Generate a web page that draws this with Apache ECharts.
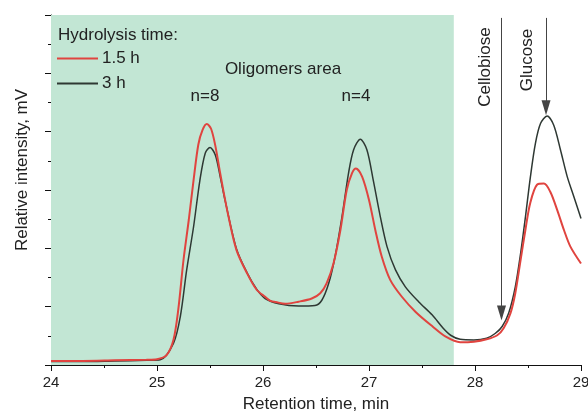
<!DOCTYPE html>
<html>
<head>
<meta charset="utf-8">
<script src="https://cdn.jsdelivr.net/npm/echarts@6/dist/echarts.min.js"></script>
<style>
    html, body { margin: 0; padding: 0; background: #fff; }
    #chart { width: 588px; height: 416px; }
</style>
</head>
<body>
<div id="chart"></div>
<script>
// retention time (min) / intensity for each hydrolysis time
var time15 = [24.0, 24.3, 24.6, 24.9, 25.0, 25.09, 25.155, 25.2, 25.25, 25.3, 25.345, 25.39, 25.43, 25.47, 25.51, 25.55, 25.59, 25.63, 25.675, 25.75, 25.85, 25.94, 26.02, 26.07, 26.12, 26.21, 26.335, 26.46, 26.54, 26.6, 26.665, 26.73, 26.79, 26.84, 26.877, 26.935, 27.0, 27.06, 27.12, 27.2, 27.31, 27.44, 27.6, 27.72, 27.86, 27.99, 28.11, 28.21, 28.27, 28.335, 28.38, 28.43, 28.475, 28.52, 28.585, 28.65, 28.71, 28.775, 28.84, 28.9, 29.0];
var val15 = [0.07, 0.07, 0.08, 0.09, 0.10, 0.17, 0.43, 0.94, 1.80, 2.49, 3.17, 3.78, 4.03, 4.13, 4.05, 3.76, 3.35, 2.95, 2.54, 1.97, 1.57, 1.29, 1.17, 1.10, 1.08, 1.05, 1.085, 1.14, 1.23, 1.40, 1.74, 2.31, 3.00, 3.29, 3.37, 3.23, 2.83, 2.31, 1.86, 1.46, 1.17, 0.91, 0.66, 0.49, 0.39, 0.40, 0.44, 0.51, 0.63, 0.89, 1.23, 1.80, 2.31, 2.77, 3.09, 3.11, 2.97, 2.66, 2.31, 2.03, 1.74];
var time3 = [24.0, 24.3, 24.6, 24.9, 25.03, 25.155, 25.22, 25.28, 25.345, 25.405, 25.455, 25.5, 25.55, 25.595, 25.645, 25.75, 25.85, 25.94, 26.02, 26.15, 26.335, 26.49, 26.555, 26.62, 26.68, 26.745, 26.807, 26.855, 26.918, 26.98, 27.04, 27.107, 27.17, 27.25, 27.343, 27.468, 27.595, 27.7, 27.77, 27.86, 27.99, 28.11, 28.19, 28.256, 28.318, 28.38, 28.43, 28.476, 28.523, 28.57, 28.618, 28.68, 28.743, 28.806, 28.87, 28.932, 29.0];
var val3 = [0.06, 0.06, 0.07, 0.08, 0.09, 0.37, 0.83, 1.63, 2.37, 3.17, 3.63, 3.73, 3.60, 3.24, 2.80, 1.99, 1.58, 1.30, 1.14, 1.05, 1.01, 1.02, 1.11, 1.40, 1.86, 2.54, 3.29, 3.69, 3.87, 3.69, 3.17, 2.54, 2.03, 1.63, 1.34, 1.085, 0.86, 0.63, 0.51, 0.44, 0.43, 0.46, 0.54, 0.66, 0.89, 1.34, 1.91, 2.54, 3.23, 3.80, 4.14, 4.27, 4.11, 3.69, 3.23, 2.89, 2.51];
var seriesNames = ['1.5 h', '3 h'];
var oligomersEnd = 27.8;
// peak marker arrows: [x, top, tip]
var cellobioseArrow = [28.25, 5.95, 0.89];
var glucoseArrow = [28.67, 5.95, 4.41];

function pairs(xs, ys) {
    var out = [];
    for (var i = 0; i < xs.length; i++) {
        out.push([xs[i], ys[i]]);
    }
    return out;
}

var font = '"Liberation Sans", Arial, sans-serif';
var txt = '#222';

function label(text, x, y, align, rotate) {
    return {
        type: 'text', x: x, y: y, z: 100, rotation: rotate ? Math.PI / 2 : 0,
        style: { text: text, font: '17px ' + font, fill: txt, textAlign: align, textVerticalAlign: 'middle' }
    };
}

var myChart = echarts.init(document.getElementById('chart'));
var option = {
    animation: false,
    grid: { left: 51, right: 7, top: 15, bottom: 51, containLabel: false, outerBoundsMode: 'none' },
    legend: {
        data: seriesNames,
        orient: 'vertical',
        left: 56,
        top: 50,
        z: 100,
        padding: 0,
        itemWidth: 41,
        itemHeight: 14,
        itemGap: 8,
        itemStyle: { opacity: 0 },
        textStyle: { fontFamily: font, fontSize: 17, color: txt, padding: [0, 0, 0, -1] }
    },
    xAxis: {
        type: 'value',
        min: 24,
        max: 29,
        interval: 1,
        name: 'Retention time, min',
        nameLocation: 'middle',
        nameGap: 31,
        nameTextStyle: { fontFamily: font, fontSize: 17, color: txt },
        axisLine: { onZero: false, lineStyle: { color: '#111', width: 1 } },
        axisTick: { inside: false, length: 6, lineStyle: { color: '#111' } },
        minorTick: { show: true, splitNumber: 2, length: 3, lineStyle: { color: '#111' } },
        axisLabel: { fontFamily: font, fontSize: 15, color: txt, margin: 10 },
        splitLine: { show: false }
    },
    yAxis: {
        type: 'value',
        min: 0,
        max: 6,
        interval: 1,
        axisLine: { show: true, lineStyle: { color: '#111', width: 1 } },
        axisTick: { show: true, inside: false, length: 6, lineStyle: { color: '#111' } },
        minorTick: { show: true, splitNumber: 2, length: 3, lineStyle: { color: '#111' } },
        axisLabel: { show: false },
        splitLine: { show: false }
    },
    series: [
        {
            name: '3 h',
            type: 'line',
            data: pairs(time3, val3),
            showSymbol: false,
            symbol: 'none',
            smooth: 0.3,
            lineStyle: { color: '#2e3833', width: 1.5 },
            itemStyle: { color: '#2e3833' },
            markArea: {
                silent: true,
                itemStyle: { color: '#c2e6d4' },
                data: [[{ xAxis: 24 }, { xAxis: oligomersEnd }]]
            },
            markLine: {
                silent: true,
                symbol: ['none', 'triangle'],
                symbolSize: [9, 15],
                label: { show: false },
                lineStyle: { color: '#444', width: 1, type: 'solid' },
                data: [
                    [{ coord: [cellobioseArrow[0], cellobioseArrow[1]] }, { coord: [cellobioseArrow[0], cellobioseArrow[2]] }],
                    [{ coord: [glucoseArrow[0], glucoseArrow[1]] }, { coord: [glucoseArrow[0], glucoseArrow[2]] }]
                ]
            }
        },
        {
            name: '1.5 h',
            type: 'line',
            data: pairs(time15, val15),
            showSymbol: false,
            symbol: 'none',
            smooth: 0.3,
            lineStyle: { color: '#e0443f', width: 2 },
            itemStyle: { color: '#e0443f' }
        }
    ],
    graphic: [
        label('Hydrolysis time:', 58, 35, 'left'),
        label('Oligomers area', 283, 69, 'center'),
        label('n=8', 205, 96, 'center'),
        label('n=4', 356, 96, 'center'),
        label('Cellobiose', 485, 67, 'center', true),
        label('Glucose', 527, 60, 'center', true),
        label('Relative intensity, mV', 22, 170, 'center', true)
    ]
};
myChart.setOption(option);
</script>
</body>
</html>
